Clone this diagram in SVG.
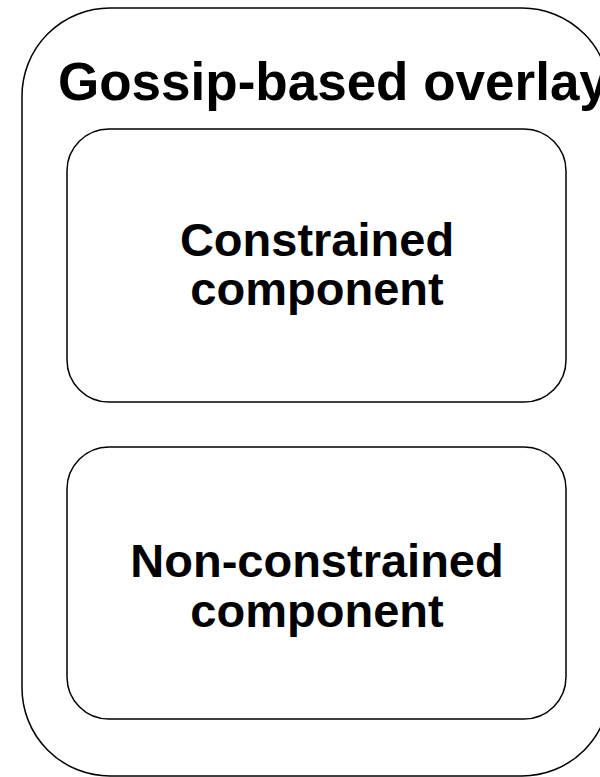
<svg xmlns="http://www.w3.org/2000/svg" width="600" height="777" viewBox="0 0 600 777">
  <style>
    .box { fill: #ffffff; stroke: #000000; stroke-width: 1.5; }
    .label { font-family: "Liberation Sans", Arial, sans-serif; font-weight: bold; fill: #000000; }
  </style>
  <rect width="600" height="777" fill="#ffffff"/>
  <g id="overlay">
    <rect class="box" x="22" y="8" width="588" height="768" rx="88" ry="88"/>
    <text class="label" x="58" y="100" font-size="53">Gossip-based overlay</text>
  </g>
  <g id="constrained">
    <rect class="box" x="67" y="129" width="499" height="273" rx="42" ry="42"/>
    <text class="label" x="317" y="256" font-size="47" text-anchor="middle">Constrained</text>
    <text class="label" x="317" y="305" font-size="47" text-anchor="middle">component</text>
  </g>
  <g id="non-constrained">
    <rect class="box" x="67" y="447" width="499" height="272" rx="42" ry="42"/>
    <text class="label" x="317" y="577" font-size="47" text-anchor="middle">Non-constrained</text>
    <text class="label" x="317" y="627" font-size="47" text-anchor="middle">component</text>
  </g>
  <g id="connectors"/>
</svg>
